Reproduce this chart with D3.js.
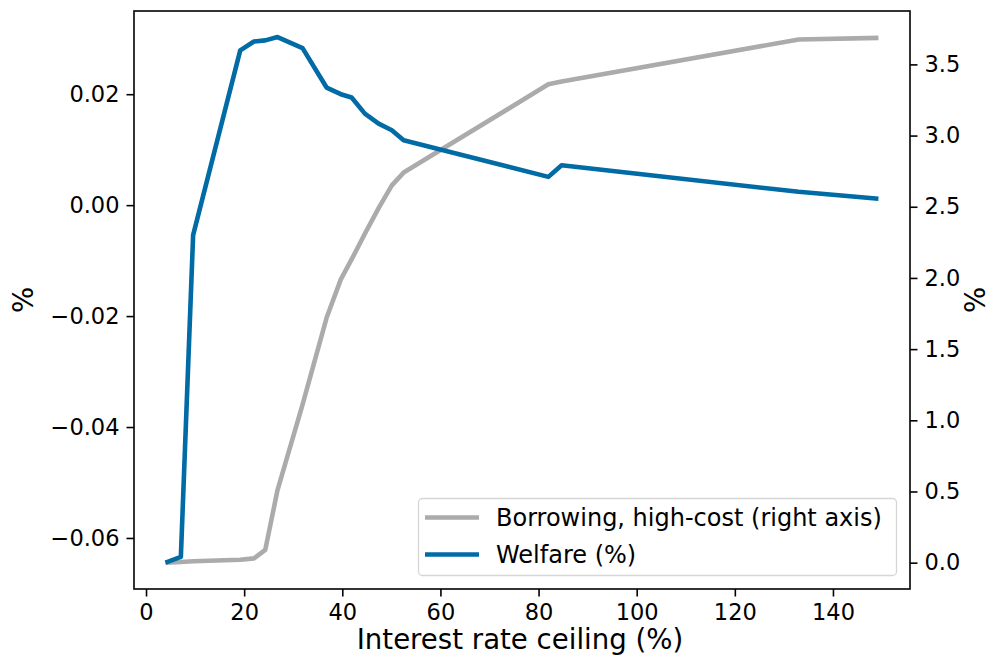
<!DOCTYPE html>
<html>
<head>
<meta charset="utf-8">
<script src="https://cdn.jsdelivr.net/npm/d3@7"></script>
<style>
  body { margin: 0; background: #fff; }
  svg { display: block; font-family: "DejaVu Sans", sans-serif; }
</style>
</head>
<body>
<svg id="chart" width="992" height="657"></svg>
<script>
// ---- data ----
const ceiling = [4.4, 7.1, 9.6, 19.2, 22.0, 24.3, 26.8, 31.9, 36.8, 39.7, 41.9, 44.6, 47.4, 50.1, 52.5, 82.0, 84.7, 133.0, 148.8];
const welfare = [-0.0643, -0.0634, -0.0054, 0.0279, 0.0295, 0.0297, 0.0303, 0.0283, 0.0212, 0.0200, 0.0194, 0.0165, 0.0147, 0.0135, 0.0117, 0.0051, 0.0072, 0.0024, 0.0012];
const borrowing = [0.00, 0.005, 0.01, 0.02, 0.03, 0.09, 0.51, 1.11, 1.72, 1.99, 2.13, 2.31, 2.49, 2.65, 2.74, 3.36, 3.38, 3.675, 3.686];
const xTicks = [0, 20, 40, 60, 80, 100, 120, 140];
const yLeftTicks = [-0.06, -0.04, -0.02, 0.00, 0.02];
const yRightTicks = [0.0, 0.5, 1.0, 1.5, 2.0, 2.5, 3.0, 3.5];
const legendLabels = ["Borrowing, high-cost (right axis)", "Welfare (%)"];
const xLabel = "Interest rate ceiling (%)";
const yLeftLabel = "%";
const yRightLabel = "%";

// ---- layout ----
const L = 134, T = 11, W = 776, H = 578;
const blue = "#006BA4", gray = "#ABABAB";
const tickFont = 22.5, labelFont = 27.6, legendFont = 24;

const svg = d3.select("#chart");
const x = d3.scaleLinear().domain([-2.45, 155.7]).range([L, L + W]);
const yL = d3.scaleLinear().domain([-0.0692, 0.0350]).range([T + H, T]);
const yR = d3.scaleLinear().domain([-0.185, 3.875]).range([T + H, T]);

const minus = s => s.replace("-", "\u2212");

function styleAxis(g) {
  g.selectAll(".domain").remove();
  g.selectAll(".tick line").attr("stroke", "#000").attr("stroke-width", 1.6);
  g.selectAll(".tick text").attr("fill", "#000").attr("font-size", tickFont)
    .attr("font-family", "DejaVu Sans, sans-serif");
}

// x axis
svg.append("g").attr("transform", `translate(0,${T + H})`)
  .call(d3.axisBottom(x).tickValues(xTicks).tickSize(7.5).tickPadding(7).tickFormat(d3.format("d")))
  .call(styleAxis)
  .selectAll(".tick text").attr("dy", "0.75em");

// left axis
svg.append("g").attr("transform", `translate(${L},0)`)
  .call(d3.axisLeft(yL).tickValues(yLeftTicks).tickSize(7.5).tickPadding(7).tickFormat(d => minus(d3.format(".2f")(d))))
  .call(styleAxis);

// right axis
svg.append("g").attr("transform", `translate(${L + W},0)`)
  .call(d3.axisRight(yR).tickValues(yRightTicks).tickSize(7.5).tickPadding(7).tickFormat(d3.format(".1f")))
  .call(styleAxis);

// clip
svg.append("clipPath").attr("id", "clip").append("rect")
  .attr("x", L).attr("y", T).attr("width", W).attr("height", H);

const pts = ceiling.map((c, i) => ({ c, w: welfare[i], b: borrowing[i] }));

svg.append("path").datum(pts)
  .attr("clip-path", "url(#clip)")
  .attr("fill", "none").attr("stroke", gray).attr("stroke-width", 4.6)
  .attr("stroke-linejoin", "round").attr("stroke-linecap", "square")
  .attr("d", d3.line().x(d => x(d.c)).y(d => yR(d.b)));

svg.append("path").datum(pts)
  .attr("clip-path", "url(#clip)")
  .attr("fill", "none").attr("stroke", blue).attr("stroke-width", 4.6)
  .attr("stroke-linejoin", "round").attr("stroke-linecap", "square")
  .attr("d", d3.line().x(d => x(d.c)).y(d => yL(d.w)));

// frame
svg.append("rect").attr("x", L).attr("y", T).attr("width", W).attr("height", H)
  .attr("fill", "none").attr("stroke", "#000").attr("stroke-width", 1.6);

// labels
svg.append("text").attr("x", L + W / 2 - 2).attr("y", 649)
  .attr("text-anchor", "middle").attr("font-size", labelFont).attr("fill", "#000").text(xLabel);
svg.append("text").attr("transform", `translate(33,${T + H / 2}) rotate(-90)`)
  .attr("text-anchor", "middle").attr("font-size", labelFont).attr("fill", "#000").text(yLeftLabel);
svg.append("text").attr("transform", `translate(985,${T + H / 2}) rotate(-90)`)
  .attr("text-anchor", "middle").attr("font-size", labelFont).attr("fill", "#000").text(yRightLabel);

// legend
const lg = svg.append("g");
lg.append("rect").attr("x", 418.5).attr("y", 498.5).attr("width", 478).attr("height", 77).attr("rx", 4)
  .attr("fill", "#fff").attr("fill-opacity", 0.8).attr("stroke", "#d6d6d6").attr("stroke-width", 1.3);
const legColors = [gray, blue];
const rowY = [517.5, 554.5];
legendLabels.forEach((lab, i) => {
  lg.append("line").attr("x1", 425).attr("x2", 479).attr("y1", rowY[i]).attr("y2", rowY[i])
    .attr("stroke", legColors[i]).attr("stroke-width", 4.6);
  lg.append("text").attr("x", 496).attr("y", rowY[i]).attr("dy", "0.36em")
    .attr("font-size", legendFont).attr("fill", "#000").text(lab);
});
</script>
</body>
</html>
